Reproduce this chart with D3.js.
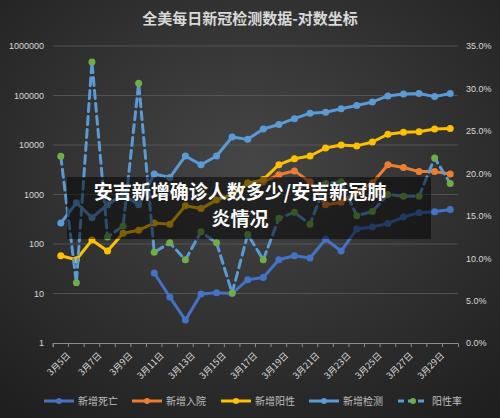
<!DOCTYPE html>
<html><head><meta charset="utf-8">
<script src="https://cdn.jsdelivr.net/npm/d3@7"></script>
<style>body{margin:0;background:#2a2a2a}svg{display:block}</style></head>
<body><svg id="c" width="500" height="418"></svg>
<script>
const dates = ["3月5日","3月6日","3月7日","3月8日","3月9日","3月10日","3月11日","3月12日","3月13日","3月14日","3月15日","3月16日","3月17日","3月18日","3月19日","3月20日","3月21日","3月22日","3月23日","3月24日","3月25日","3月26日","3月27日","3月28日","3月29日","3月30日"];
const deaths = [null,null,null,null,null,null,26,8.5,2.9,9.8,10.3,10,19,21,48,58,52,125,72,200,220,260,350,430,450,500];
const hosp = [null,null,null,null,null,null,null,null,null,null,null,null,1700,1800,2500,3000,1800,620,700,1100,1700,4000,3500,2900,2900,2600];
const positive = [58,48,120,72,165,190,265,250,590,520,770,1000,1700,2000,4000,5300,6000,8700,10000,9600,11500,16500,18000,18500,21000,21500];
const tests = [265,680,340,620,1000,620,2600,2200,6000,4000,6000,14500,13000,21000,26000,34000,44000,46000,54000,63000,74000,98000,107000,110000,95000,110000];
const rate = [22.0,7.1,33.1,12.5,13.8,30.6,10.7,11.8,9.8,13.1,11.8,5.9,12.8,9.8,14.7,15.4,14.0,18.8,19.0,15.0,15.5,17.5,17.3,17.3,21.8,18.8];
const leftTicks = [1,10,100,1000,10000,100000,1000000];
const rightTicks = [0,5,10,15,20,25,30,35];

const svg = d3.select("#c");
const defs = svg.append("defs");
const g0 = defs.append("radialGradient").attr("id","bg").attr("cx","50%").attr("cy","40%").attr("r","75%");
g0.append("stop").attr("offset","0%").attr("stop-color","#464646");
g0.append("stop").attr("offset","100%").attr("stop-color","#1f1f1f");
svg.append("rect").attr("width",500).attr("height",418).attr("fill","url(#bg)");

const L=53,R=458,T=46,B=343;
const x = d3.scaleBand().domain(dates).range([L,R]);
const cx = d => x(d)+x.bandwidth()/2;
const yL = d3.scaleLog().domain([1,1000000]).range([B,T]);
const yR = d3.scaleLinear().domain([0,35]).range([B,T]);

svg.append("text").attr("x",250).attr("y",24).attr("text-anchor","middle").attr("fill","#d9d9d9")
 .attr("font-family","Noto Sans CJK SC").attr("font-size",15).attr("font-weight","bold").text("全美每日新冠检测数据-对数坐标");

svg.append("g").selectAll("line").data(leftTicks.slice(1)).join("line")
 .attr("x1",L).attr("x2",R).attr("y1",d=>yL(d)).attr("y2",d=>yL(d)).attr("stroke","#5a5a5a").attr("stroke-width",0.8);

const font="Liberation Sans";
svg.append("g").attr("transform",`translate(${L},0)`).call(d3.axisLeft(yL).tickValues(leftTicks).tickFormat(d3.format("d")).tickSize(0).tickPadding(9))
 .call(g=>g.select(".domain").remove()).selectAll("text").attr("fill","#d9d9d9").attr("font-size",9).attr("font-family",font);
svg.append("g").attr("transform",`translate(${R},0)`).call(d3.axisRight(yR).tickValues(rightTicks).tickFormat(d=>d.toFixed(1)+"%").tickSize(0).tickPadding(8))
 .call(g=>g.select(".domain").remove()).selectAll("text").attr("fill","#d9d9d9").attr("font-size",9).attr("font-family",font);

const xa = svg.append("g").attr("transform",`translate(0,${B})`).call(d3.axisBottom(x).tickSize(4).tickFormat((d,i)=>i%2==0?d:""));
xa.select(".domain").attr("stroke","#8c8c8c");
xa.selectAll("line").attr("stroke","#8c8c8c").attr("transform",`translate(${-x.bandwidth()/2},0)`);
xa.selectAll("text").attr("fill","#d9d9d9").attr("font-size",9).attr("font-family","Noto Sans CJK SC")
 .attr("text-anchor","end").attr("transform","translate(2,5) rotate(-45)").attr("dy","0.5em");

function series(data, yS, color, mcolor, dashed){
  const pts = dates.map((d,i)=>[d,data[i]]);
  const line = d3.line().defined(p=>p[1]!=null).x(p=>cx(p[0])).y(p=>yS(p[1]));
  svg.append("path").datum(pts).attr("d",line).attr("fill","none").attr("stroke",color)
    .attr("stroke-width",3).attr("stroke-dasharray",dashed?"8,5":null).attr("stroke-linejoin","round").attr("stroke-linecap","round");
  svg.append("g").selectAll("circle").data(pts.filter(p=>p[1]!=null)).join("circle")
    .attr("cx",p=>cx(p[0])).attr("cy",p=>yS(p[1])).attr("r",3.5).attr("fill",mcolor);
}
series(deaths,yL,"#4472C4","#4472C4");
series(hosp,yL,"#ED7D31","#ED7D31");
series(positive,yL,"#FFC000","#FFC000");
series(tests,yL,"#5B9BD5","#5B9BD5");
series(rate,yR,"#5B9BD5","#70AD47",true);

const legend = [["新增死亡","#4472C4"],["新增入院","#ED7D31"],["新增阳性","#FFC000"],["新增检测","#5B9BD5"],["阳性率","#5B9BD5"]];
const lx=[44,132,221,309,398];
const lg = svg.append("g").selectAll("g").data(legend).join("g").attr("transform",(d,i)=>`translate(${lx[i]},401)`);
lg.append("line").attr("x1",0).attr("x2",30).attr("stroke",d=>d[1]).attr("stroke-width",3).attr("stroke-dasharray",(d,i)=>i==4?"6,4":null);
lg.append("circle").attr("cx",15).attr("r",3).attr("fill",(d,i)=>i==4?"#70AD47":d[1]);
lg.append("text").attr("x",34).attr("dy","0.35em").attr("fill","#bfbfbf").attr("font-size",10).attr("font-family","Noto Sans CJK SC").text(d=>d[0]);

svg.append("rect").attr("x",67).attr("y",177).attr("width",364).attr("height",62).attr("fill","rgba(0,0,0,0.5)");
const bannerLines = ["安吉新增确诊人数多少/安吉新冠肺","炎情况"];
svg.append("g").selectAll("text").data(bannerLines).join("text").attr("text-anchor","middle").attr("fill","#fff")
 .attr("font-family","Noto Sans CJK SC").attr("font-size",19).attr("font-weight","bold")
 .attr("x",240).attr("y",(d,i)=>199+i*27).text(d=>d);
</script></body></html>
